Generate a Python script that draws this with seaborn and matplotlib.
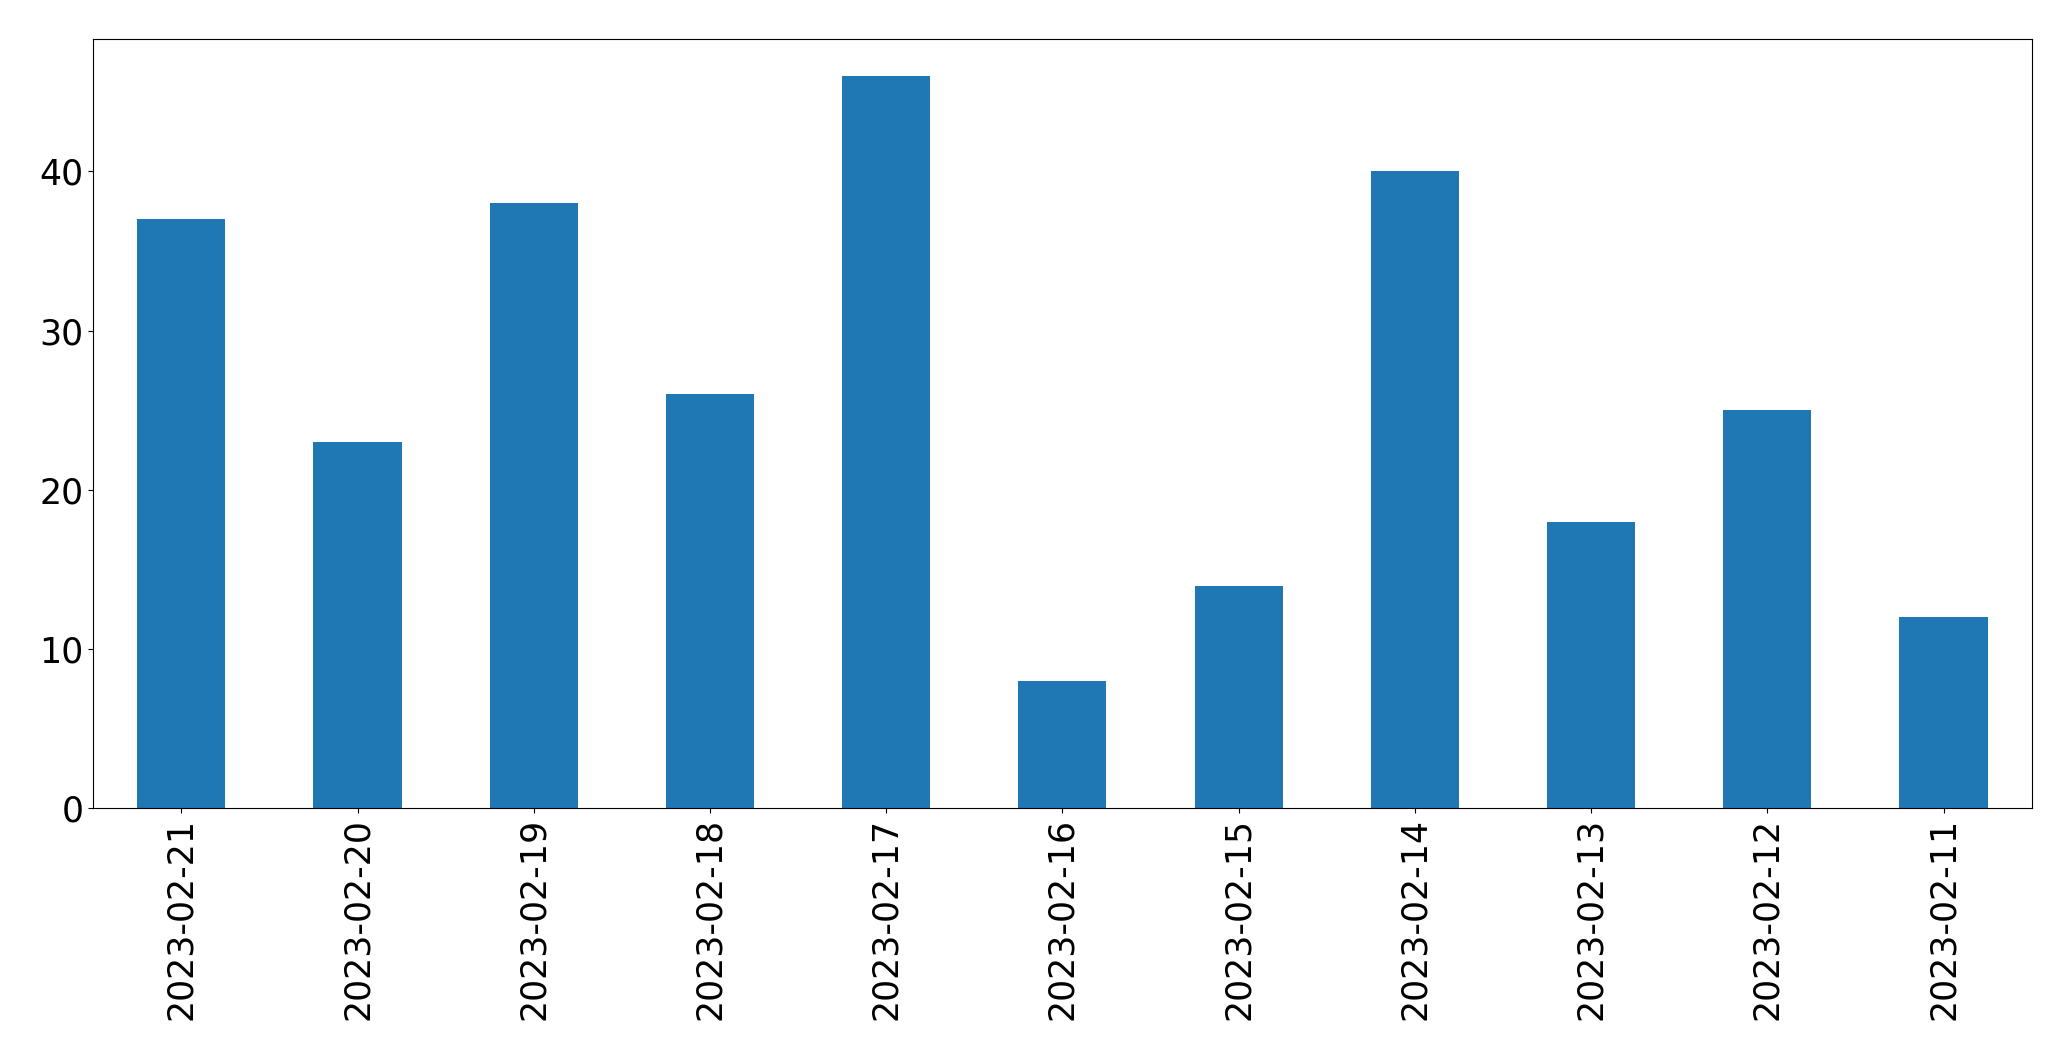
import matplotlib
matplotlib.use("Agg")
import matplotlib.pyplot as plt
import pandas as pd
import seaborn as sns

# data
dates = [
    "2023-02-21", "2023-02-20", "2023-02-19", "2023-02-18", "2023-02-17",
    "2023-02-16", "2023-02-15", "2023-02-14", "2023-02-13", "2023-02-12",
    "2023-02-11",
]
counts = [37, 23, 38, 26, 46, 8, 14, 40, 18, 25, 12]

df = pd.DataFrame({"date": dates, "count": counts})

fig, ax = plt.subplots(figsize=(20.71, 10.61), dpi=100)
sns.barplot(
    data=df,
    x="date",
    y="count",
    order=dates,
    color="#1f77b4",
    saturation=1,
    width=0.5,
    ax=ax,
)
ax.set_xlabel("")
ax.set_ylabel("")
ax.tick_params(axis="both", labelsize=25)
ax.tick_params(axis="x", labelrotation=90)
ax.set_xlim(-0.5, len(dates) - 0.5)
ax.set_ylim(0, max(counts) * 1.05)

fig.subplots_adjust(left=0.045, right=0.981, top=0.963, bottom=0.238)
fig.savefig("out.png", dpi=100)
